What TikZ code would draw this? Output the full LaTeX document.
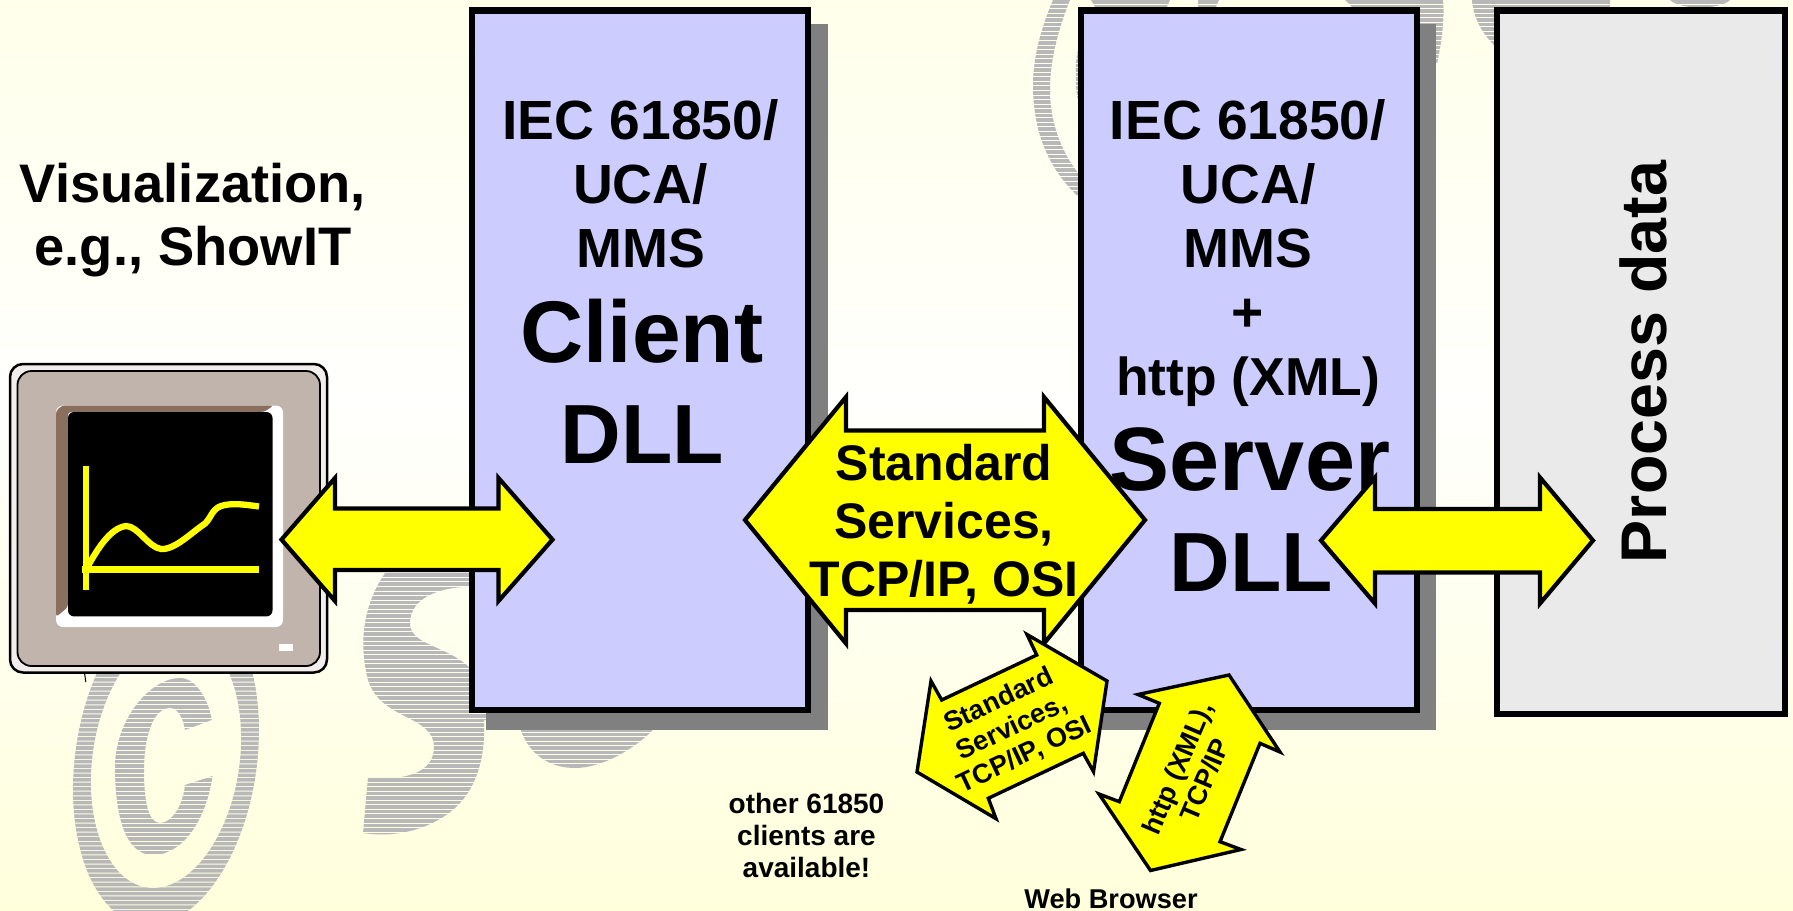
\documentclass[tikz,border=0pt]{standalone}
\usepackage{fontspec}
\setmainfont{Liberation Sans}
\definecolor{bgA}{HTML}{FFFFEA}
\definecolor{bgB}{HTML}{FFFFFD}
\definecolor{bgC}{HTML}{FFFFDC}
\definecolor{wmgray}{HTML}{B8B8B8}
\definecolor{blockblue}{HTML}{CCCCFF}
\definecolor{blockgray}{HTML}{EAEAEA}
\definecolor{shadowgray}{HTML}{808080}
\definecolor{monbody}{HTML}{C0B4AC}
\definecolor{monrim}{HTML}{F2EEEC}
\definecolor{mondark}{HTML}{8A6E5E}
\definecolor{arrowyellow}{HTML}{FFFF00}
\tikzset{
  block/.style={draw=black,line width=6.5pt,miter limit=10},
  shadowbox/.style={fill=shadowgray},
  bigarrow/.style={fill=arrowyellow,draw=black,line width=4.2pt,line join=miter,miter limit=30},
  smallarrow/.style={fill=arrowyellow,draw=black,line width=3.4pt,line join=miter,miter limit=30},
  chartline/.style={draw=arrowyellow,line width=6.3pt},
  txt/.style={inner sep=0pt,outer sep=0pt,anchor=base,font=\bfseries\fontsize{#1}{#1}\selectfont},
  rottxt/.style={inner sep=0pt,outer sep=0pt,align=center,font=\bfseries\fontsize{27}{30}\selectfont},
}
\begin{document}
\begin{tikzpicture}[x=1pt,y=-1pt]
\useasboundingbox (0,0) rectangle (1793,910);
% background
\shade[top color=bgA,bottom color=bgB] (0,0) rectangle (1793,401);
\shade[top color=bgB,bottom color=bgC] (0,400) rectangle (1793,910);
% watermark
\begin{scope}[even odd rule,shift={(166,760)},xslant=0.1]
\clip (0,0) ellipse [x radius=91.5,y radius=165]
  (0,0) ellipse [x radius=74,y radius=128];
\foreach \i in {120,...,200} {\fill[wmgray] (-500,4.55*\i-760) rectangle (500,4.55*\i-756.45);}
\end{scope}
\begin{scope}
\clip
  % C
  (211.7,720) .. controls (210,705) and (198,678) .. (180,678)
  .. controls (150,678) and (115,720) .. (115,767)
  .. controls (115,815) and (125,855) .. (153,855)
  .. controls (180,855) and (205,825) .. (212.7,776)
  -- (185,785) .. controls (183,805) and (172,823) .. (160,823)
  .. controls (148,823) and (144,800) .. (144,770)
  .. controls (144,740) and (152,708) .. (170,708)
  .. controls (178,708) and (183,718) .. (185,730) -- cycle
  % S
  (385,573) .. controls (400,555) and (430,545) .. (480,545) -- (520,545) -- (520,587) -- (468,587)
  .. controls (440,587) and (410,598) .. (410,623)
  .. controls (410,645) and (445,645) .. (469,667)
  -- (520,690) -- (520,720) -- (484,720)
  .. controls (486,760) and (475,790) .. (455,808)
  .. controls (430,830) and (395,838) .. (363,833)
  -- (368,777) .. controls (400,781) and (434,775) .. (434,747)
  .. controls (434,715) and (380,720) .. (368,680)
  .. controls (360,650) and (360,610) .. (385,573) -- cycle
  % o sliver
  (515,700) -- (521,731) .. controls (530,755) and (550,768) .. (575,768)
  .. controls (600,768) and (630,752) .. (652,731) -- (660,700) -- cycle
  % top: ring left of block 2
  (1053,0) .. controls (1040,30) and (1033,60) .. (1033,85)
  .. controls (1033,135) and (1050,175) .. (1090,207) -- (1090,180) -- (1078,173)
  .. controls (1060,150) and (1050,120) .. (1050,90)
  .. controls (1050,60) and (1058,30) .. (1070,0) -- cycle
  (1090,50) -- (1078,50) .. controls (1075,60) and (1075,90) .. (1078,100) -- (1090,100) -- cycle
  % top strips
  (1091,0) -- (1170,0) -- (1166,9) -- (1096,9) -- cycle
  (1198,0) -- (1219,0) -- (1215,9) -- (1198,9) -- cycle
  (1345,0) -- (1354,9) -- (1400,30) -- (1400,64) -- (1437,64)
  .. controls (1441,45) and (1445,20) .. (1443,0) -- cycle
  (1472,0) .. controls (1473,15) and (1480,32) .. (1496,47) -- (1510,47) -- (1510,12) -- (1610,12) -- (1610,0) -- cycle
  (1670,0) .. controls (1680,10) and (1720,10) .. (1730,0) -- cycle
  ;
\foreach \i in {0,...,200} {\fill[wmgray] (0,4.55*\i) rectangle (1793,4.55*\i+3.55);}
\end{scope}
% shadows and blocks
\fill[shadowbox] (486,24) rectangle (828,730);
\draw[block,fill=blockblue] (472.2,10.5) rectangle (807.8,710);
\fill[shadowbox] (1095,24) rectangle (1436,730);
\draw[block,fill=blockblue] (1081.2,10.5) rectangle (1416.8,710);
\draw[block,fill=blockgray] (1497.2,10.5) rectangle (1784.8,714);
% process data text
\node[txt=64.6,rotate=90,anchor=base] (pd) at (1666,362) {Process data};
% monitor
\draw[black,line width=2.5pt,fill=monrim,rounded corners=13pt] (10,364) rectangle (327,672.5);
\draw[black,line width=1.8pt,fill=monbody,rounded corners=14pt] (17.5,371) rectangle (320,666);
\fill[white,rounded corners=7pt] (56,405.5) rectangle (283,627);
\fill[mondark,rounded corners=3pt] (273.6,405.5) -- (62,405.5) -- (56,411) -- (56,617) -- (68,607) -- (68,412) -- (264,412) -- cycle;
\fill[black,rounded corners=6pt] (68,412) rectangle (272.5,616.4);
\draw[chartline] (85.7,465.5) -- (85.7,590);
\draw[chartline] (82,569.5) -- (259,569.5);
\draw[chartline] (88,566) .. controls (97,550) and (110,528) .. (126,526)
  .. controls (138,526) and (148,547) .. (161,549)
  .. controls (175,550) and (192,532) .. (205,523.6)
  .. controls (212,517) and (212,507) .. (225,505)
  .. controls (235,503) and (248,505) .. (259,506.5);
\fill[white] (279,643.6) rectangle (293,651.3);
\draw[black,line width=1pt] (84.5,672.7) -- (85.8,682);
% visualisation text
\node[txt=54.3] (vis1) at (193,202) {Visualization,};
\node[txt=54.3] (vis2) at (193,265) {e.g., ShowIT};
% block 1 text
\node[txt=55.2] (c1) at (640.5,139) {IEC 61850/};
\node[txt=55.2] (c2) at (640.5,203) {UCA/};
\node[txt=55.2] (c3) at (640.5,267) {MMS};
\node[txt=87.5] (c4) at (642,362) {Client};
\node[txt=84] (c5) at (642,463) {DLL};
% left arrow
\draw[bigarrow] (281.5,539.6) -- (335,478) -- (335,508.5) -- (498.5,508.5) -- (498.5,478) -- (552.5,539.6) -- (498.5,601) -- (498.5,570) -- (335,570) -- (335,601) -- cycle;
% centre arrow
\draw[bigarrow] (745,520) -- (846,397) -- (846,430.5) -- (1044,430.5) -- (1044,397) -- (1145,520) -- (1044,643.5) -- (1044,610) -- (846,610) -- (846,643.5) -- cycle;
\node[txt=50] (b1) at (944,480) {Standard};
\node[txt=50] (b2) at (944,538) {Services,};
\node[txt=50] (b3) at (944,596) {TCP/IP, OSI};
% block 2 text
\node[txt=55.2] (s1) at (1248,139) {IEC 61850/};
\node[txt=55.2] (s2) at (1248,203) {UCA/};
\node[txt=55.2] (s3) at (1248,267) {MMS};
\node[txt=55.2] (s4) at (1248,331) {+};
\node[txt=53.4] (s5) at (1248,395) {http (XML)};
\node[txt=90] (s6) at (1250,490) {Server};
\node[txt=84] (s7) at (1251,591) {DLL};
% right arrow
\draw[bigarrow] (1321,540.5) -- (1375,477.5) -- (1375,509) -- (1540,509) -- (1540,477.5) -- (1593,540.5) -- (1540,603.5) -- (1540,572.5) -- (1375,572.5) -- (1375,603.5) -- cycle;
% small arrows
\draw[smallarrow] (917,772) -- (931,681) -- (941.7,700) -- (1036.7,655) -- (1027,634.5) -- (1107,681) -- (1093.5,771.7) -- (1083.3,753.3) -- (988.3,798.3) -- (996,818.7) -- cycle;
\node[rottxt,rotate=25.3] (d) at (1012,728) {Standard\\Services,\\TCP/IP, OSI};
\draw[smallarrow] (1229,675) -- (1138,694.5) -- (1159.3,703.3) -- (1119.3,801.7) -- (1099,794) -- (1150.5,870.5) -- (1241,849.5) -- (1220,841.7) -- (1260,743.3) -- (1280,752) -- cycle;
\node[rottxt,rotate=67] (e) at (1190.7,774) {http (XML),\\TCP/IP};
% small labels
\node[txt=28] (o1) at (806.5,813) {other 61850};
\node[txt=28] (o2) at (806.5,845) {clients are};
\node[txt=28] (o3) at (806.5,877) {available!};
\node[txt=27.2] (w) at (1111,908) {Web Browser};
\end{tikzpicture}
\end{document}
